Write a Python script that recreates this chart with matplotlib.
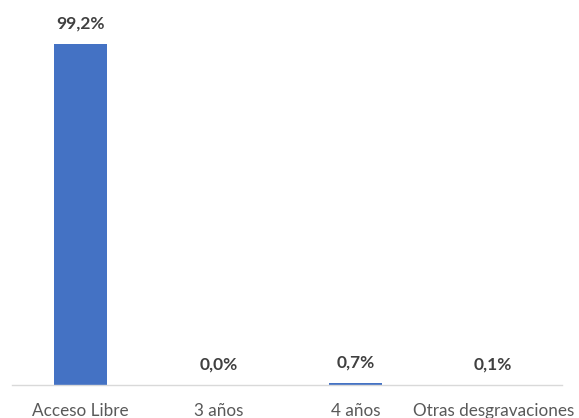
import matplotlib
matplotlib.use("Agg")
import matplotlib.pyplot as plt

# Datos del grafico
categorias = ["Acceso Libre", "3 años", "4 años", "Otras desgravaciones"]
valores = [99.2, 0.0, 0.7, 0.1]
etiquetas = ["99,2%", "0,0%", "0,7%", "0,1%"]

plt.rcParams["font.family"] = ["Lato", "DejaVu Sans"]

fig = plt.figure(figsize=(5.79, 4.18), dpi=100)
ax = fig.add_axes([12 / 579, 33 / 418, 550 / 579, 385 / 418])

x = range(len(categorias))
ax.bar(x, valores, width=0.385, color="#4472C4")

for i, v in enumerate(valores):
    ax.annotate(etiquetas[i], (i, v), xytext=(0, 14.5), textcoords="offset points",
                ha="center", va="center", fontsize=12.5, fontweight="bold",
                color="#404040")

ax.set_xlim(-0.5, 3.5)
ax.set_ylim(0, 112)
ax.set_xticks(list(x))
ax.set_xticklabels(categorias, fontsize=12.3, color="#595959")
ax.tick_params(axis="x", length=0, pad=13)
ax.set_yticks([])

for s in ["top", "right", "left"]:
    ax.spines[s].set_visible(False)
ax.spines["bottom"].set_color("#D9D9D9")
ax.spines["bottom"].set_linewidth(1)

fig.savefig("out.png", dpi=100)
